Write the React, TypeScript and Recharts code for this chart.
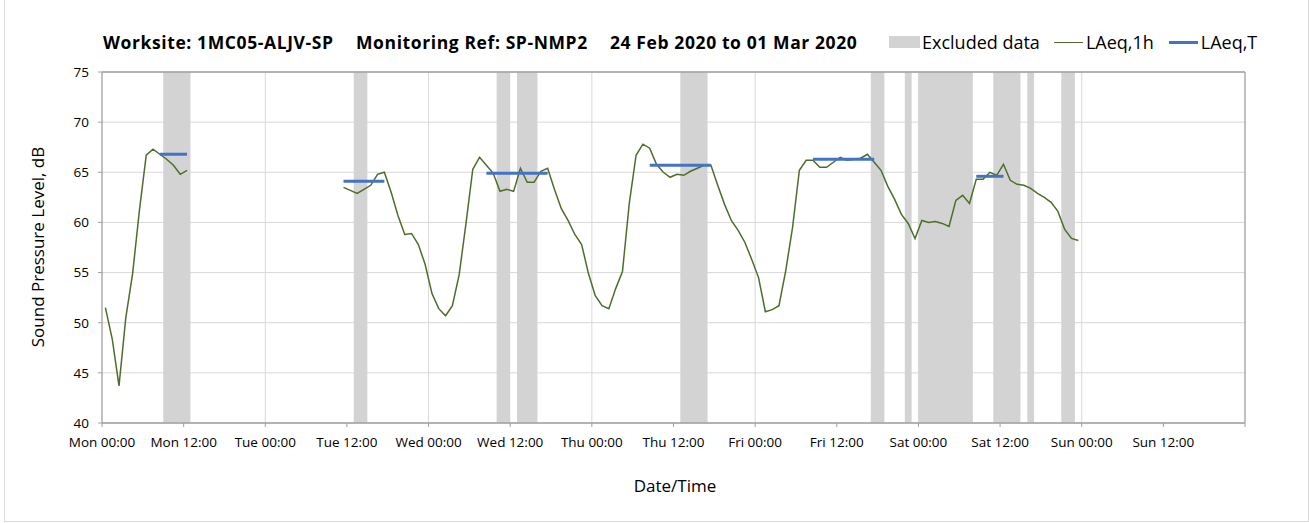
import React from 'react';
import {
  ComposedChart,
  Line,
  XAxis,
  YAxis,
  CartesianGrid,
  ReferenceArea,
  ReferenceLine,
} from 'recharts';

// x axis: hours since Mon 00:00
const xTicks = [0, 12, 24, 36, 48, 60, 72, 84, 96, 108, 120, 132, 144, 156, 168];
const xTickLabels = [
  'Mon 00:00', 'Mon 12:00', 'Tue 00:00', 'Tue 12:00', 'Wed 00:00', 'Wed 12:00', 'Thu 00:00',
  'Thu 12:00', 'Fri 00:00', 'Fri 12:00', 'Sat 00:00', 'Sat 12:00', 'Sun 00:00', 'Sun 12:00',
];
const dayLines = [24, 48, 72, 96, 120, 144];
const yTicks = [40, 45, 50, 55, 60, 65, 70, 75];

// LAeq,1h — monday block
const mondayStartHour = 0;
const mondayLAeq1h = [51.5, 48.4, 43.7, 50.5, 54.9, 61.2, 66.7, 67.3, 66.8, 66.3, 65.7, 64.8, 65.2];

// LAeq,1h — Tue 11:00 to Sat 23:00
const weekStartHour = 35;
const weekLAeq1h = [
  63.5, 63.2, 62.9, 63.3, 63.7, 64.8, 65.0, 63.0, 60.7, 58.8, 58.9, 57.8, 55.8, 52.9, 51.4, 50.7,
  51.7, 54.8, 59.9, 65.3, 66.5, 65.7, 64.9, 63.1, 63.3, 63.1, 65.4, 64.0, 64.0, 65.1, 65.4, 63.3,
  61.4, 60.2, 58.8, 57.8, 54.9, 52.7, 51.7, 51.4, 53.4, 55.1, 61.9, 66.7, 67.8, 67.4, 65.8, 65.0,
  64.5, 64.8, 64.7, 65.1, 65.4, 65.7, 65.7, 63.7, 61.8, 60.2, 59.2, 58.0, 56.3, 54.5, 51.1, 51.3,
  51.7, 55.2, 59.5, 65.2, 66.2, 66.2, 65.5, 65.5, 66.0, 66.5, 66.2, 66.3, 66.4, 66.8, 66.0, 65.2,
  63.6, 62.3, 60.8, 59.9, 58.4, 60.2, 60.0, 60.1, 59.9, 59.6, 62.2, 62.7, 61.9, 64.3, 64.3, 65.0,
  64.7, 65.8, 64.2, 63.8, 63.7, 63.4, 62.9, 62.5, 62.0, 61.1, 59.3, 58.4, 58.2,
];

// excluded data periods (hours)
const excludedFrom = [9, 37, 58, 61, 85, 113, 118, 120, 131, 136, 141];
const excludedTo = [13, 39, 60, 64, 89, 115, 119, 128, 135, 137, 143];

// LAeq,T per daytime period
const periodFrom = [8.5, 35.5, 56.5, 80.5, 104.5, 128.5];
const periodTo = [12.5, 41.5, 65.5, 89.5, 113.5, 132.5];
const periodLAeqT = [66.8, 64.1, 64.9, 65.7, 66.3, 64.6];

const hourly = [
  ...mondayLAeq1h.map((v, i) => ({ t: mondayStartHour + i + 0.5, laeq: v })),
  { t: 24, laeq: null },
  ...weekLAeq1h.map((v, i) => ({ t: weekStartHour + i + 0.5, laeq: v })),
];

const font = "'Open Sans', sans-serif";
const axisColor = '#a0a0a0';
const gridColor = '#d9d9d9';
const green = '#4d6e2b';
const blue = '#4472c4';
const bandColor = '#d3d3d3';

const Legend = () => (
  <div style={{
    position: 'absolute', top: 30, left: 889, display: 'flex', alignItems: 'center',
    fontFamily: font, fontSize: 18, color: '#000', whiteSpace: 'nowrap', height: 24,
  }}>
    <span style={{ width: 31, height: 12, background: bandColor, display: 'inline-block' }} />
    <span style={{ marginLeft: 2 }}>Excluded data</span>
    <span style={{ width: 29, height: 0, borderTop: `1.5px solid ${green}`, marginLeft: 14, display: 'inline-block' }} />
    <span style={{ marginLeft: 3 }}>LAeq,1h</span>
    <span style={{ width: 29, height: 0, borderTop: `3px solid ${blue}`, marginLeft: 15, display: 'inline-block' }} />
    <span style={{ marginLeft: 3 }}>LAeq,T</span>
  </div>
);

const App = () => {
  const titleStyle: React.CSSProperties = {
    position: 'absolute', top: 30, fontFamily: font, fontWeight: 700, fontSize: 17.5,
    letterSpacing: 0.6, whiteSpace: 'nowrap',
  };
  return (
    <div style={{ position: 'absolute', top: 0, left: 0, width: 1309, height: 523, background: '#fff' }}>
      <div style={{
        position: 'absolute', left: 4, top: 0, width: 1303, height: 521,
        borderLeft: '1px solid #d9d9d9', borderRight: '1px solid #d9d9d9', borderBottom: '1px solid #d9d9d9',
      }} />
      <ComposedChart width={1309} height={523} data={hourly} margin={{ top: 72, right: 64, bottom: 0, left: 0 }}>
        <CartesianGrid vertical={false} stroke={gridColor} />
        {dayLines.map((d) => (
          <ReferenceLine key={'d' + d} x={d} stroke={gridColor} />
        ))}
        {excludedFrom.map((f, i) => (
          <ReferenceArea key={'ex' + i} x1={f} x2={excludedTo[i]} fill={bandColor} fillOpacity={1} stroke="none" />
        ))}
        <ReferenceLine y={75} stroke={axisColor} strokeWidth={1.3} />
        <ReferenceLine x={168} stroke={axisColor} strokeWidth={1.3} />
        <XAxis
          dataKey="t"
          type="number"
          domain={[0, 168]}
          ticks={xTicks}
          interval={0}
          height={100}
          tickSize={4}
          tickMargin={10}
          tickFormatter={(v) => xTickLabels[v / 12] ?? ''}
          axisLine={{ stroke: axisColor, strokeWidth: 1.3 }}
          tickLine={{ stroke: axisColor }}
          tick={{ fill: '#000', fontSize: 13.5, fontFamily: font }}
        />
        <YAxis
          type="number"
          domain={[40, 75]}
          ticks={yTicks}
          interval={0}
          width={102}
          tickSize={4}
          tickMargin={9}
          axisLine={{ stroke: axisColor, strokeWidth: 1.3 }}
          tickLine={{ stroke: axisColor }}
          tick={{ fill: '#000', fontSize: 13.5, fontFamily: font }}
        />
        <Line
          dataKey="laeq"
          type="linear"
          stroke={green}
          strokeWidth={1.5}
          dot={false}
          connectNulls={false}
          isAnimationActive={false}
        />
        {periodLAeqT.map((v, i) => (
          <Line
            key={'p' + i}
            data={[{ t: periodFrom[i], laeqT: v }, { t: periodTo[i], laeqT: v }]}
            dataKey="laeqT"
            type="linear"
            stroke={blue}
            strokeWidth={3}
            dot={false}
            isAnimationActive={false}
          />
        ))}
      </ComposedChart>
      <div style={{ ...titleStyle, left: 103 }}>Worksite: 1MC05-ALJV-SP</div>
      <div style={{ ...titleStyle, left: 356 }}>Monitoring Ref: SP-NMP2</div>
      <div style={{ ...titleStyle, left: 610 }}>24 Feb 2020 to 01 Mar 2020</div>
      <Legend />
      <div style={{
        position: 'absolute', left: 37, top: 247, transform: 'translate(-50%, -50%) rotate(-90deg)',
        fontFamily: font, fontSize: 17, whiteSpace: 'nowrap',
      }}>Sound Pressure Level, dB</div>
      <div style={{
        position: 'absolute', left: 675, top: 485, transform: 'translate(-50%, -50%)',
        fontFamily: font, fontSize: 17, whiteSpace: 'nowrap',
      }}>Date/Time</div>
    </div>
  );
};

export default App;
